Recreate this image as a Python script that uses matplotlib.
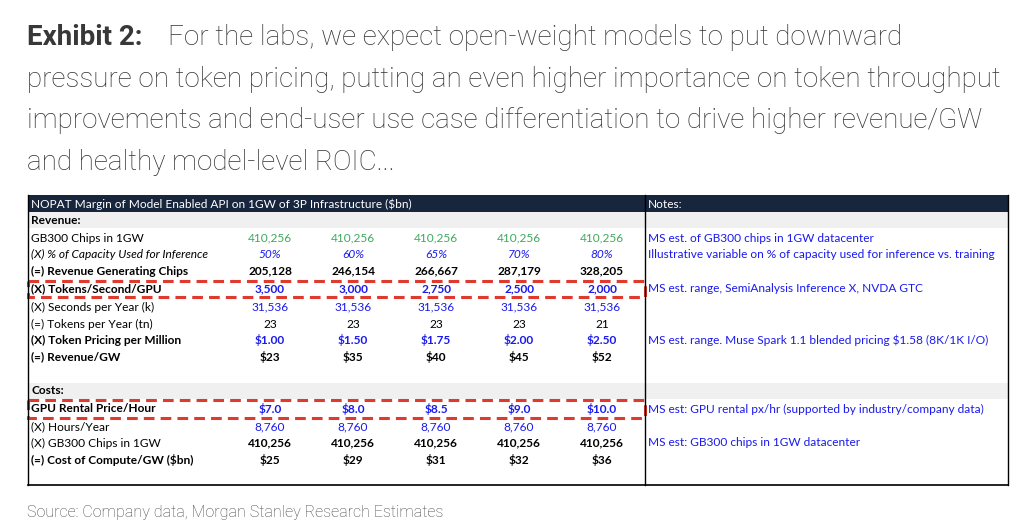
import matplotlib
matplotlib.use("Agg")
import matplotlib.pyplot as plt
from matplotlib.patches import Rectangle

# ---- data ----
chips_1gw = [410256, 410256, 410256, 410256, 410256]
capacity_pct = [50, 60, 65, 70, 80]
rev_chips = [205128, 246154, 266667, 287179, 328205]
tokens_per_sec = [3500, 3000, 2750, 2500, 2000]
seconds_k = [31536, 31536, 31536, 31536, 31536]
tokens_tn = [23, 23, 23, 23, 21]
price_per_m = [1.00, 1.50, 1.75, 2.00, 2.50]
revenue_gw = [23, 35, 40, 45, 52]
gpu_rental = [7.0, 8.0, 8.5, 9.0, 10.0]
hours_year = [8760, 8760, 8760, 8760, 8760]
cost_gw = [25, 29, 31, 32, 36]

title_lines = [
    "For the labs, we expect open-weight models to put downward",
    "pressure on token pricing, putting an even higher importance on token throughput",
    "improvements and end-user use case differentiation to drive higher revenue/GW",
    "and healthy model-level ROIC...",
]
header = "NOPAT Margin of Model Enabled API on 1GW of 3P Infrastructure ($bn)"
source = "Source: Company data, Morgan Stanley Research Estimates"

GREEN = "#3daa5c"
BLUE = "#1a1aee"
BLACK = "#000000"
NAVY = "#17253d"
RED = "#e03a2e"

# rows: (y, label, values, fmt, color, label bold, value bold, italic, note)
rows = [
    (238, "GB300 Chips in 1GW", chips_1gw, "{:,.0f}", GREEN, False, False, False,
     "MS est. of GB300 chips in 1GW datacenter"),
    (254, "(X) % of Capacity Used for Inference", capacity_pct, "{:.0f}%", BLUE, False, False, True,
     "Illustrative variable on % of capacity used for inference vs. training"),
    (271, "(=) Revenue Generating Chips", rev_chips, "{:,.0f}", BLACK, True, True, False, ""),
    (289, "(X) Tokens/Second/GPU", tokens_per_sec, "{:,.0f}", BLUE, True, True, False,
     "MS est. range, SemiAnalysis Inference X, NVDA GTC"),
    (307, "(X) Seconds per Year (k)", seconds_k, "{:,.0f}", BLUE, False, False, False, ""),
    (324, "(=) Tokens per Year (tn)", tokens_tn, "{:.0f}", BLACK, False, False, False, ""),
    (340, "(X) Token Pricing per Million", price_per_m, "${:.2f}", BLUE, True, True, False,
     "MS est. range. Muse Spark 1.1 blended pricing $1.58 (8K/1K I/O)"),
    (357, "(=) Revenue/GW", revenue_gw, "${:.0f}", BLACK, True, True, False, ""),
    (409, "GPU Rental Price/Hour", gpu_rental, "${:.1f}", BLUE, True, True, False,
     "MS est: GPU rental px/hr (supported by industry/company data)"),
    (427, "(X) Hours/Year", hours_year, "{:,.0f}", BLUE, False, False, False, ""),
    (443, "(X) GB300 Chips in 1GW", chips_1gw, "{:,.0f}", BLACK, False, True, False,
     "MS est: GB300 chips in 1GW datacenter"),
    (460, "(=) Cost of Compute/GW ($bn)", cost_gw, "${:.0f}", BLACK, True, True, False, ""),
]
col_x = [270, 353, 436, 519, 602]

fig = plt.figure(figsize=(10.28, 5.32), dpi=100)
ax = fig.add_axes([0, 0, 1, 1])
ax.set_xlim(0, 1028)
ax.set_ylim(532, 0)
ax.axis("off")

# ---- title ----
tfont = "Roboto"
ax.text(27, 45, "Exhibit 2:", fontsize=20, fontweight="bold", family=tfont,
        color="#383838", va="baseline")
for i, line in enumerate(title_lines):
    x = 168 if i == 0 else 27
    ax.text(x, 45 + i * 41.7, line, fontsize=20, fontweight="light", family=tfont,
            color="#333333", va="baseline")

# ---- table ----
L, D, R = 28, 645, 1008
top, bottom = 195, 485
tbl_font = "Lato"
fs = 8.6

ax.add_patch(Rectangle((L, top), R - L, 17, facecolor=NAVY, edgecolor="none"))
ax.text(L + 3, top + 9, header, color="white", fontsize=fs, family=tbl_font, va="center")
ax.text(D + 3, top + 9, "Notes:", color="white", fontsize=fs, family=tbl_font, va="center")

for y0, lab in [(212, "Revenue:"), (383, "Costs:")]:
    ax.add_patch(Rectangle((L, y0), R - L, 15.5, facecolor="#f0f0f0", edgecolor="none"))
    ax.text(L + 3, y0 + 8, lab, fontsize=fs, family=tbl_font, fontweight="bold",
            va="center", color=BLACK)

for (y, lab, vals, fmt, color, lbold, vbold, italic, note) in rows:
    st = "italic" if italic else "normal"
    ax.text(L + 3, y, lab, fontsize=fs, family=tbl_font,
            fontweight="bold" if lbold else "normal", style=st,
            va="center", color=BLACK)
    for x, v in zip(col_x, vals):
        ax.text(x, y, fmt.format(v), fontsize=fs, family=tbl_font,
                fontweight="bold" if vbold else "normal",
                style=st, va="center", ha="center", color=color)
    if note:
        ax.text(D + 3, y, note, fontsize=fs, family=tbl_font, va="center", color=BLUE)

# borders
ax.plot([L, L], [top, bottom], color="black", lw=1)
ax.plot([R, R], [top, bottom], color="black", lw=1)
ax.plot([D, D], [top, bottom], color="black", lw=1)
ax.plot([L, R], [bottom, bottom], color="black", lw=1.2)

# dashed highlight boxes
for y0, y1 in [(281, 297), (400, 418)]:
    ax.add_patch(Rectangle((L, y0), D - L, y1 - y0, facecolor="none", edgecolor=RED,
                           lw=2.2, ls=(0, (3.5, 2))))

ax.text(27, 512, source, fontsize=11.5, fontweight="light", family=tfont,
        color="#444444", va="center")

fig.savefig("out.png", dpi=100)
